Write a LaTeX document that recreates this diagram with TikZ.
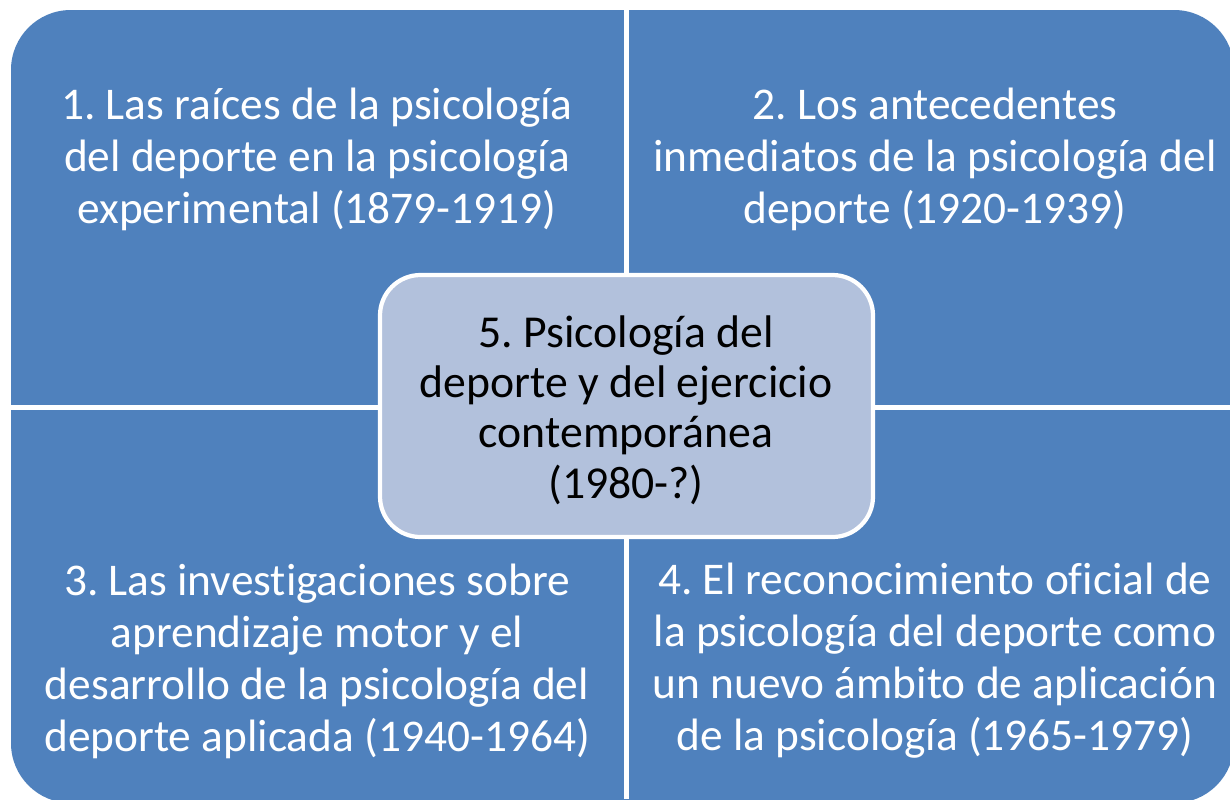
\documentclass[tikz,border=0pt]{standalone}
\usepackage{fontspec}
\setmainfont[Ligatures={NoCommon}]{Carlito}
\frenchspacing
\definecolor{quadblue}{HTML}{4F81BD}
\definecolor{midblue}{HTML}{B2C1DC}

\begin{document}
\begin{tikzpicture}[x=0.01cm,y=-0.01cm,
    quadtext/.style={text=white,align=center,font=\fontsize{12.9}{14.8}\selectfont},
    midtext/.style={text=black,align=center,font=\fontsize{13}{14.3}\selectfont}]
    \useasboundingbox (0,0) rectangle (1230,799);
    \clip (0,0) rectangle (1230,799);

    % Quadrants.
    \fill[quadblue,rounded corners=17pt] (11,10) rectangle (1234,803);
    \fill[white] (624,0) rectangle (629,799);
    \fill[white] (0,405) rectangle (1230,410);

    % Centre.
    \filldraw[fill=midblue,draw=white,line width=1.2pt,rounded corners=11.5pt]
      (380,275) rectangle (873,537);

    % Texts.
    \node[quadtext] (era1) at (317,159) {1. Las raíces de la psicología\\del deporte en la psicología\\experimental (1879-1919)};
    \node[quadtext] (era2) at (935,159) {2. Los antecedentes\\inmediatos de la psicología del\\deporte (1920-1939)};
    \node[quadtext] (era3) at (317,661) {3. Las investigaciones sobre\\aprendizaje motor y el\\desarrollo de la psicología del\\deporte aplicada (1940-1964)};
    \node[quadtext] (era4) at (935,661) {4. El reconocimiento oficial de\\la psicología del deporte como\\un nuevo ámbito de aplicación\\de la psicología (1965-1979)};
    \node[midtext] (era5) at (626,410) {5. Psicología del\\deporte y del ejercicio\\contemporánea\\(1980-?)};

  \end{tikzpicture}
\end{document}
